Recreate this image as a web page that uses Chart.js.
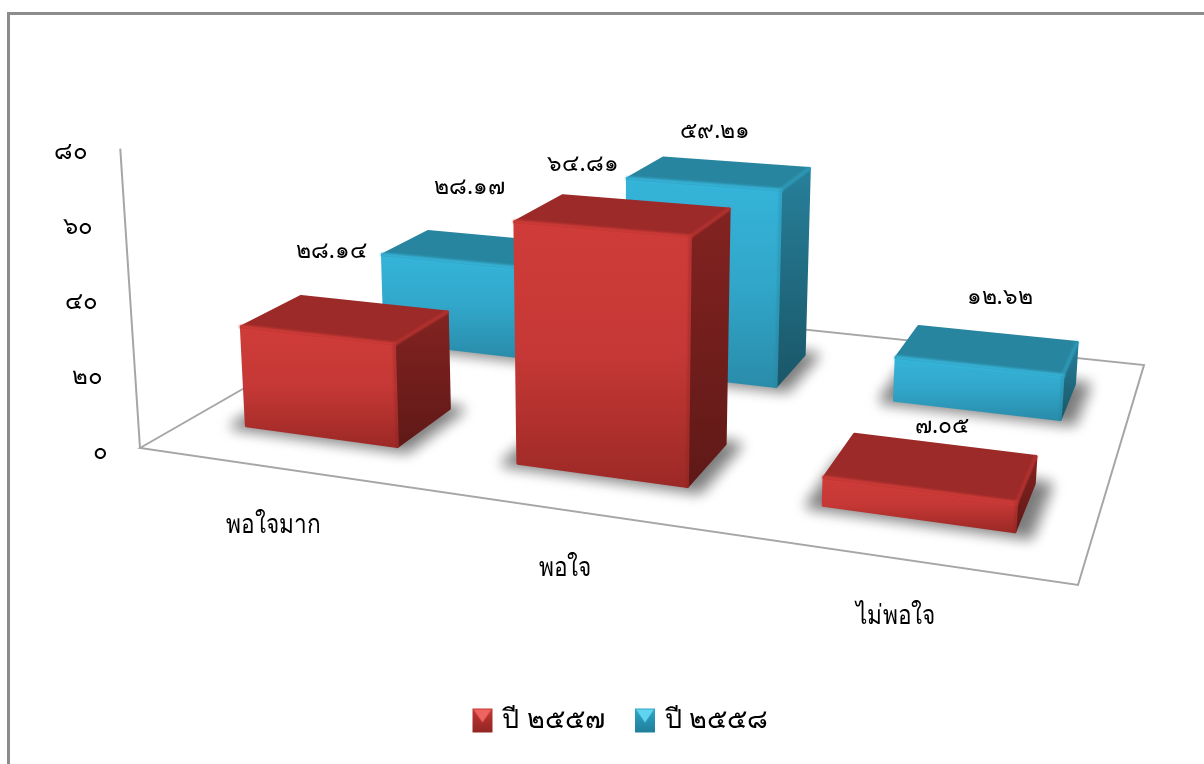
<!DOCTYPE html>
<html lang="th">
<head>
<meta charset="utf-8">
<title>แผนภูมิความพึงพอใจ</title>
<script src="https://cdn.jsdelivr.net/npm/chart.js@4/dist/chart.umd.min.js"></script>
<style>
  html, body { margin: 0; padding: 0; background: #fff; overflow: hidden; }
  #frame { position: absolute; left: 7px; top: 12px; right: 0; bottom: 0; border-left: 3px solid #8c8c8c; border-top: 3px solid #8c8c8c; }
  #chart { position: absolute; left: 0; top: 0; }
</style>
</head>
<body>
<div id="frame"></div>
<canvas id="chart" width="1204" height="764"></canvas>
<script>
const categories = ["พอใจมาก", "พอใจ", "ไม่พอใจ"];
const seriesNames = ["ปี ๒๕๕๗", "ปี ๒๕๕๘"];
const values2557 = [28.14, 64.81, 7.05];
const values2558 = [28.17, 59.21, 12.62];
const axisTicks = [0, 20, 40, 60, 80];

const FONT = '"Noto Sans", "Liberation Sans", "DejaVu Sans", sans-serif';
const THAI = "๐๑๒๓๔๕๖๗๘๙";
const toThai = (s) => String(s).replace(/[0-9]/g, (d) => THAI[d]);

// floor of the 3d box as seen on screen: front-left, front-right, back-right, back-left
const FLOOR = [[140, 448], [1078, 585], [1144, 365], [417, 289]];
const UP_VANISH = [605, 7500];
const BAR_SCALE = 0.97;
const ROWS = [[0.15, 0.345], [0.65, 0.845]];
const LABEL_NUDGE = [
  [[-13, -68], [-39, -51], [12, -41]],
  [[-1, -62], [-3, -42], [13, -53]],
];
const LOOK = [
  { top: "#9c2a28", edge: "#d63e3b", front: ["#cf3c39", "#c53835", "#9c2926"], side: ["#832321", "#5f1917"] },
  { top: "#28859f", edge: "#38badf", front: ["#35b4d9", "#31a7ca", "#2a8cab"], side: ["#27809a", "#1a5668"] },
];

// unit square -> screen homography
const H = (() => {
  const [a, b, c, d] = FLOOR;
  const d1 = [b[0] - c[0], b[1] - c[1]], d2 = [d[0] - c[0], d[1] - c[1]];
  const s = [a[0] - b[0] + c[0] - d[0], a[1] - b[1] + c[1] - d[1]];
  const det = d1[0] * d2[1] - d1[1] * d2[0];
  const g = (s[0] * d2[1] - s[1] * d2[0]) / det;
  const h = (d1[0] * s[1] - d1[1] * s[0]) / det;
  return {
    g, h,
    a: b[0] - a[0] + g * b[0], b: d[0] - a[0] + h * d[0], c: a[0],
    d: b[1] - a[1] + g * b[1], e: d[1] - a[1] + h * d[1], f: a[1],
  };
})();

function floorPt(u, v) {
  const w = 1 + H.g * u + H.h * v;
  return { x: (H.a * u + H.b * v + H.c) / w, y: (H.d * u + H.e * v + H.f) / w, w };
}

// lift a floor point by a height in pixels, towards the vertical vanishing direction
function lift(p, px) {
  const dx = p.x - UP_VANISH[0], dy = p.y - UP_VANISH[1];
  const n = Math.hypot(dx, dy);
  return { x: p.x + (dx / n) * px, y: p.y + (dy / n) * px };
}

function poly(ctx, pts, fill) {
  ctx.beginPath();
  pts.forEach((p, i) => (i ? ctx.lineTo(p.x, p.y) : ctx.moveTo(p.x, p.y)));
  ctx.closePath();
  ctx.fillStyle = fill;
  ctx.fill();
  ctx.strokeStyle = fill;
  ctx.lineWidth = 3;
  ctx.lineJoin = "round";
  ctx.stroke();
}

function vGrad(ctx, y0, y1, stops) {
  const g = ctx.createLinearGradient(0, y0, 0, y1);
  stops.forEach((c, i) => g.addColorStop(i / (stops.length - 1), c));
  return g;
}

function barGeom(chart, el, rowIdx) {
  const area = chart.chartArea, y = chart.scales.y;
  const u0 = (el.x - el.width / 2 - area.left) / area.width;
  const u1 = (el.x + el.width / 2 - area.left) / area.width;
  const [v0, v1] = ROWS[rowIdx];
  const frac = (y.bottom - el.y) / (y.bottom - y.top);
  const base = [floorPt(u0, v0), floorPt(u1, v0), floorPt(u1, v1), floorPt(u0, v1)];
  const top = base.map((p) => lift(p, (frac * y.height * BAR_SCALE) / p.w));
  return { u0, u1, v0, v1, base, top };
}

function softEdge(ctx, a, b, color, alpha, width) {
  ctx.save();
  ctx.filter = "blur(1px)";
  ctx.globalAlpha = alpha;
  ctx.strokeStyle = color;
  ctx.lineWidth = width;
  ctx.lineCap = "round";
  ctx.beginPath();
  ctx.moveTo(a.x, a.y);
  ctx.lineTo(b.x, b.y);
  ctx.stroke();
  ctx.restore();
}

function drawBar(ctx, g, look) {
  const [fl, fr, br] = g.base;
  const [tfl, tfr, tbr, tbl] = g.top;

  // soft contact shadow on the floor
  ctx.save();
  ctx.filter = "blur(7px)";
  poly(ctx, [floorPt(g.u0 - 0.014, g.v0 - 0.012), floorPt(g.u1 + 0.016, g.v0 - 0.012), floorPt(g.u1 + 0.016, g.v1 + 0.005), floorPt(g.u0 - 0.014, g.v1 + 0.005)], "rgba(30,30,30,0.58)");
  ctx.restore();

  poly(ctx, [fr, br, tbr, tfr], vGrad(ctx, tbr.y, fr.y, look.side));
  poly(ctx, [fl, fr, tfr, tfl], vGrad(ctx, Math.min(tfl.y, tfr.y), Math.max(fl.y, fr.y), look.front));
  poly(ctx, [tfl, tfr, tbr, tbl], look.top);

  // bevels along the upper edges
  softEdge(ctx, tfl, tfr, look.edge, 0.85, 4);
  softEdge(ctx, tfr, tbr, look.edge, 0.35, 4);
  softEdge(ctx, tfr, fr, look.side[0], 0.5, 2);
}

const box3d = {
  id: "box3d",
  beforeDatasetsDraw(chart) {
    const ctx = chart.ctx, y = chart.scales.y;
    const corner = floorPt(0, 0);
    ctx.save();
    ctx.strokeStyle = "#a6a6a6";
    ctx.lineWidth = 2;
    ctx.lineJoin = "miter";
    ctx.beginPath();
    const q = [floorPt(0, 1), floorPt(1, 1), floorPt(1, 0), corner];
    ctx.moveTo(q[3].x, q[3].y);
    q.forEach((p) => ctx.lineTo(p.x, p.y));
    ctx.closePath();
    const tip = lift(corner, y.height);
    ctx.moveTo(corner.x, corner.y);
    ctx.lineTo(tip.x, tip.y);
    ctx.stroke();

    // back row first, the front row sits over it
    for (let d = chart.data.datasets.length - 1; d >= 0; d--) {
      chart.getDatasetMeta(d).data.forEach((el) => drawBar(ctx, barGeom(chart, el, d), LOOK[d]));
    }
    ctx.restore();
  },
  beforeDatasetDraw() {
    return false;
  },
  afterDatasetsDraw(chart) {
    const ctx = chart.ctx, y = chart.scales.y, xs = chart.scales.x;
    const corner = floorPt(0, 0);
    ctx.save();
    ctx.fillStyle = "#000";
    ctx.textBaseline = "middle";

    // value axis labels follow the tilted axis line
    ctx.font = "24px " + FONT;
    ctx.textAlign = "right";
    axisTicks.forEach((t) => {
      const py = y.getPixelForValue(t);
      const p = lift(corner, y.bottom - py);
      ctx.fillText(toThai(t), p.x - 32, py);
    });

    // category labels under the front edge of the floor, a bit condensed
    ctx.font = "27px " + FONT;
    ctx.textAlign = "center";
    categories.forEach((c, i) => {
      const u = (xs.getPixelForValue(i) - chart.chartArea.left) / chart.chartArea.width;
      const p = floorPt(u, 0);
      ctx.save();
      ctx.translate(p.x, p.y + 58);
      ctx.scale(0.84, 1);
      ctx.fillText(c, 0, 0);
      ctx.restore();
    });

    // value labels above the boxes
    ctx.font = "23px " + FONT;
    chart.data.datasets.forEach((ds, d) => {
      chart.getDatasetMeta(d).data.forEach((el, i) => {
        const t = barGeom(chart, el, d).top;
        const cx = (t[0].x + t[2].x) / 2, cy = (t[0].y + t[2].y) / 2;
        ctx.fillText(toThai(ds.data[i].toFixed(2)), cx + LABEL_NUDGE[d][i][0], cy + LABEL_NUDGE[d][i][1]);
      });
    });
    ctx.restore();
  },
};

function legendIcon(light, mid, dark) {
  const c = document.createElement("canvas");
  c.width = 22;
  c.height = 26;
  const g = c.getContext("2d");
  const body = g.createLinearGradient(0, 0, 0, 26);
  body.addColorStop(0, mid);
  body.addColorStop(1, dark);
  g.fillStyle = body;
  g.fillRect(1, 1, 20, 24);
  g.fillStyle = light;
  g.beginPath();
  g.moveTo(2, 2);
  g.lineTo(20, 2);
  g.lineTo(11, 15);
  g.closePath();
  g.fill();
  return c;
}

new Chart(document.getElementById("chart"), {
  type: "bar",
  plugins: [box3d],
  data: {
    labels: categories,
    datasets: [
      { label: seriesNames[0], data: values2557, backgroundColor: "#c53835", pointStyle: legendIcon("#ef6461", "#c53835", "#8f2523") },
      { label: seriesNames[1], data: values2558, backgroundColor: "#31a7ca", pointStyle: legendIcon("#5fd4ef", "#31a7ca", "#1f7d98") },
    ],
  },
  options: {
    responsive: false,
    animation: false,
    layout: { padding: { top: 152, right: 0, bottom: 20, left: 40 } },
    datasets: { bar: { grouped: false, barPercentage: 0.57, categoryPercentage: 1 } },
    plugins: {
      tooltip: { enabled: false },
      legend: {
        position: "bottom",
        labels: {
          usePointStyle: true,
          pointStyleWidth: 13,
          boxHeight: 21,
          color: "#000",
          padding: 34,
          font: { family: FONT, size: 27 },
        },
      },
    },
    scales: {
      x: {
        grid: { display: false },
        border: { display: false },
        ticks: { display: false },
        afterFit(s) { s.height = 221; },
      },
      y: {
        min: 0,
        max: 80,
        grid: { display: false },
        border: { display: false },
        ticks: { display: false, stepSize: 20 },
        afterFit(s) { s.width = 60; },
      },
    },
  },
});
</script>
</body>
</html>
